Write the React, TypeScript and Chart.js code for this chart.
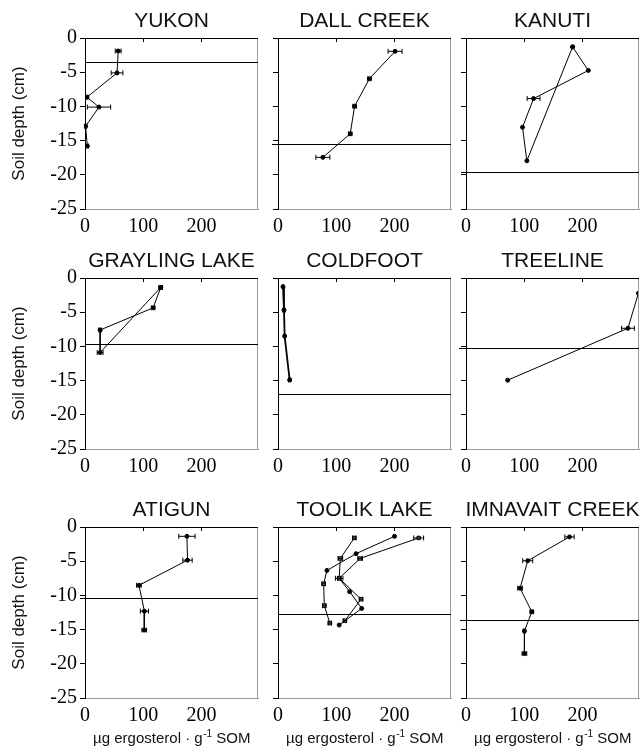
import React, { useEffect, useRef } from "react";
import { Chart, registerables } from "chart.js";

Chart.register(...registerables);

// ---------- axis / tick data ----------
const X_TICKS = [0, 100, 200];
const Y_TICKS = [0, -5, -10, -15, -20, -25];
const X_MIN = 0;
const X_MAX = 297;
const Y_MIN = -25;
const Y_MAX = 0;
const Y_TITLE = "Soil depth (cm)";
const X_TITLE_MAIN = "µg ergosterol · g";
const X_TITLE_SUP = "-1";
const X_TITLE_END = " SOM";

// ---------- panel data (x = µg ergosterol/g SOM, y = depth cm, err = ± x) ----------
const yukonX = [57, 55, 3.4, 24, 1, 4];
const yukonY = [-1.9, -5.1, -8.65, -10.1, -12.9, -15.8];
const yukonErr = [5, 10, 2, 20, 2, 2];
const yukonDepth = -3.47;

const dallX = [201, 157, 131.5, 124, 77];
const dallY = [-1.95, -5.95, -9.97, -14.0, -17.45];
const dallErr = [12, 3, 3, 3, 12];
const dallDepth = -15.5;

const kanutiX = [183, 210, 116, 97, 104.5, 183];
const kanutiY = [-1.3, -4.75, -8.85, -13.05, -17.95, -1.3];
const kanutiErr = [0, 0, 11, 0, 0, 0];
const kanutiDepth = -19.55;

const graylingX = [130, 117, 26, 26, 130];
const graylingY = [-1.38, -4.36, -7.6, -10.9, -1.38];
const graylingErr = [3, 3, 2, 5, 0];
const graylingDepth = -9.68;

const coldfootX = [8.6, 10.3, 11.4, 20];
const coldfootY = [-1.28, -4.7, -8.5, -14.9];
const coldfootErr = [1, 2, 1, 2];
const coldfootDepth = -16.9;

const treelineX = [296, 278, 71.5];
const treelineY = [-2.23, -7.35, -14.94];
const treelineErr = [0, 11, 0];
const treelineDepth = -10.3;

const atigunX = [175, 176, 92.6, 102, 101.7];
const atigunY = [-1.36, -4.85, -8.53, -12.3, -15.07];
const atigunErr = [14, 8, 4, 7, 4];
const atigunDepth = -10.37;

const toolikAX = [131, 107, 105, 123, 143.75, 105];
const toolikAY = [-1.6, -4.6, -7.5, -9.45, -11.9, -14.34];
const toolikAErr = [3, 4, 3, 0, 0, 0];
const toolikAMarks = ["s", "s", "s", "o", "o", "o"];

const toolikBX = [241.5, 141, 105, 142.6, 114.8];
const toolikBY = [-1.6, -4.6, -7.5, -10.56, -13.7];
const toolikBErr = [8.5, 4, 6.5, 3, 3];
const toolikBMarks = ["s", "s", "s", "s", "s"];

const toolikCX = [200, 134, 84, 78.4, 79.5, 89];
const toolikCY = [-1.36, -3.9, -6.35, -8.3, -11.5, -14.05];
const toolikCErr = [0, 0, 0, 3, 3, 3];
const toolikCMarks = ["o", "o", "o", "s", "s", "s"];
const toolikDepth = -12.65;

const imnavaitX = [177.7, 106, 92.8, 113, 100.3, 100.3];
const imnavaitY = [-1.45, -4.93, -8.95, -12.4, -15.2, -18.5];
const imnavaitErr = [8, 8.6, 4, 3, 2, 4];
const imnavaitDepth = -13.6;

// ---------- layout ----------
const COL_LEFT = [85, 278, 466];
const ROW_TOP = [38, 278, 527];
const PLOT_W = 174;
const PLOT_H = 171;

type Series = { x: number[]; y: number[]; err: number[]; marks?: string[] };
type PanelDef = {
  title: string;
  row: number;
  col: number;
  series: Series[];
  depth: number;
  ext: number;
  lw?: number;
};

const PANELS: PanelDef[] = [
  { title: "YUKON", row: 0, col: 0, series: [{ x: yukonX, y: yukonY, err: yukonErr }], depth: yukonDepth, ext: 0 },
  { title: "DALL CREEK", row: 0, col: 1, series: [{ x: dallX, y: dallY, err: dallErr }], depth: dallDepth, ext: 6 },
  { title: "KANUTI", row: 0, col: 2, series: [{ x: kanutiX, y: kanutiY, err: kanutiErr }], depth: kanutiDepth, ext: 5 },
  { title: "GRAYLING LAKE", row: 1, col: 0, series: [{ x: graylingX, y: graylingY, err: graylingErr }], depth: graylingDepth, ext: 0 },
  { title: "COLDFOOT", row: 1, col: 1, series: [{ x: coldfootX, y: coldfootY, err: coldfootErr }], depth: coldfootDepth, ext: 0, lw: 1.8 },
  { title: "TREELINE", row: 1, col: 2, series: [{ x: treelineX, y: treelineY, err: treelineErr }], depth: treelineDepth, ext: 7 },
  { title: "ATIGUN", row: 2, col: 0, series: [{ x: atigunX, y: atigunY, err: atigunErr }], depth: atigunDepth, ext: 5 },
  {
    title: "TOOLIK LAKE",
    row: 2,
    col: 1,
    series: [
      { x: toolikAX, y: toolikAY, err: toolikAErr, marks: toolikAMarks },
      { x: toolikBX, y: toolikBY, err: toolikBErr, marks: toolikBMarks },
      { x: toolikCX, y: toolikCY, err: toolikCErr, marks: toolikCMarks },
    ],
    depth: toolikDepth,
    ext: 0,
  },
  { title: "IMNAVAIT CREEK", row: 2, col: 2, series: [{ x: imnavaitX, y: imnavaitY, err: imnavaitErr }], depth: imnavaitDepth, ext: 6 },
];

const SANS = "'Liberation Sans', Arial, 'Noto Sans', sans-serif";
const SERIF = "'Liberation Serif', 'Times New Roman', serif";

function PanelChart({ def }: { def: PanelDef }) {
  const ref = useRef<HTMLCanvasElement | null>(null);
  const yW = def.col === 0 ? 85 : 30;
  const xH = def.row === 2 ? 52 : 40;
  const padTop = 32;
  const padRight = 4;
  const cw = yW + PLOT_W + padRight;
  const ch = padTop + PLOT_H + xH;
  const left = COL_LEFT[def.col] - yW;
  const top = ROW_TOP[def.row] - padTop;

  useEffect(() => {
    if (!ref.current) return;
    const datasets = def.series.map((s) => {
      const marks = s.marks || s.x.map(() => "o");
      return {
        data: s.x.map((xv, i) => ({ x: xv, y: s.y[i] })),
        errs: s.err,
        showLine: true,
        borderColor: "#000",
        borderWidth: def.lw || 1,
        pointStyle: marks.map((m) => (m === "s" ? "rect" : "circle")),
        pointRadius: marks.map((m) => (m === "s" ? 2.4 : 2)),
        pointBackgroundColor: marks.map((m) => (m === "s" ? "#777" : "#000")),
        pointBorderColor: "#000",
        pointBorderWidth: 1,
        tension: 0,
      } as any;
    });

    const deco = {
      id: "deco",
      afterDatasetsDraw(chart: any) {
        const ctx = chart.ctx as CanvasRenderingContext2D;
        const xs = chart.scales.x;
        const ys = chart.scales.y;
        ctx.save();
        ctx.strokeStyle = "#000";
        ctx.lineWidth = 1;
        chart.data.datasets.forEach((ds: any) => {
          ds.data.forEach((p: any, i: number) => {
            const e = ds.errs ? ds.errs[i] : 0;
            if (!e) return;
            const x1 = xs.getPixelForValue(p.x - e);
            const x2 = xs.getPixelForValue(p.x + e);
            const y = ys.getPixelForValue(p.y);
            ctx.beginPath();
            ctx.moveTo(x1, y);
            ctx.lineTo(x2, y);
            ctx.moveTo(x1, y - 2.5);
            ctx.lineTo(x1, y + 2.5);
            ctx.moveTo(x2, y - 2.5);
            ctx.lineTo(x2, y + 2.5);
            ctx.stroke();
          });
        });
        ctx.restore();
      },
      afterDraw(chart: any) {
        const ctx = chart.ctx as CanvasRenderingContext2D;
        const xs = chart.scales.x;
        const ys = chart.scales.y;
        const a = chart.chartArea;
        ctx.save();
        // right border (grey)
        ctx.strokeStyle = "#9a9a9a";
        ctx.lineWidth = 1;
        ctx.beginPath();
        ctx.moveTo(a.right - 0.5, a.top);
        ctx.lineTo(a.right - 0.5, a.bottom);
        ctx.stroke();
        // top axis line (x axis crossing at 0) with inward ticks
        ctx.strokeStyle = "#000";
        ctx.beginPath();
        ctx.moveTo(a.left, a.top + 0.5);
        ctx.lineTo(a.right, a.top + 0.5);
        X_TICKS.forEach((v) => {
          if (v === X_MIN) return;
          const px = Math.round(xs.getPixelForValue(v)) + 0.5;
          ctx.moveTo(px, a.top);
          ctx.lineTo(px, a.top + 4);
        });
        ctx.stroke();
        // depth line
        const dy = Math.round(ys.getPixelForValue(def.depth)) + 0.5;
        ctx.lineWidth = 1.2;
        ctx.beginPath();
        ctx.moveTo(a.left - def.ext, dy);
        ctx.lineTo(a.right, dy);
        ctx.stroke();
        // panel title
        ctx.fillStyle = "#111";
        ctx.font = `21px ${SANS}`;
        ctx.textAlign = "center";
        ctx.textBaseline = "middle";
        ctx.fillText(def.title, (a.left + a.right) / 2, a.top - 17);
        // y title
        if (def.col === 0) {
          ctx.save();
          ctx.translate(19.5, (a.top + a.bottom) / 2);
          ctx.rotate(-Math.PI / 2);
          ctx.font = `17px ${SANS}`;
          ctx.fillText(Y_TITLE, 0, 0);
          ctx.restore();
        }
        // x title with superscript
        if (def.row === 2) {
          const f1 = `15px ${SANS}`;
          const f2 = `10px ${SANS}`;
          ctx.font = f1;
          const w1 = ctx.measureText(X_TITLE_MAIN).width;
          const w3 = ctx.measureText(X_TITLE_END).width;
          ctx.font = f2;
          const w2 = ctx.measureText(X_TITLE_SUP).width;
          const total = w1 + w2 + w3;
          const x0 = (a.left + a.right) / 2 - total / 2;
          const by = a.bottom + 41;
          ctx.textAlign = "left";
          ctx.textBaseline = "middle";
          ctx.font = f1;
          ctx.fillText(X_TITLE_MAIN, x0, by);
          ctx.font = f2;
          ctx.fillText(X_TITLE_SUP, x0 + w1 + 0.5, by - 5);
          ctx.font = f1;
          ctx.fillText(X_TITLE_END, x0 + w1 + w2 + 0.5, by);
        }
        ctx.restore();
      },
    };

    const chart = new Chart(ref.current, {
      type: "scatter",
      data: { datasets },
      options: {
        responsive: false,
        animation: false,
        devicePixelRatio: 1,
        layout: { padding: { top: padTop, right: padRight, left: 0, bottom: 0 } },
        plugins: { legend: { display: false }, tooltip: { enabled: false }, title: { display: false } },
        scales: {
          x: {
            type: "linear",
            position: "bottom",
            min: X_MIN,
            max: X_MAX,
            afterBuildTicks: (s: any) => {
              s.ticks = X_TICKS.map((v) => ({ value: v }));
            },
            afterFit: (s: any) => {
              s.height = xH;
            },
            grid: { display: false, drawTicks: false },
            border: { display: true, color: "#9a9a9a", width: 1 },
            ticks: {
              color: "#000",
              font: { family: SERIF, size: 20 },
              padding: 6,
              maxRotation: 0,
              autoSkip: false,
              callback: (v: any) => String(v),
            },
          },
          y: {
            type: "linear",
            min: Y_MIN,
            max: Y_MAX,
            afterBuildTicks: (s: any) => {
              s.ticks = Y_TICKS.map((v) => ({ value: v }));
            },
            afterFit: (s: any) => {
              s.width = yW;
            },
            grid: { display: true, drawOnChartArea: false, drawTicks: true, tickLength: 5, color: "#000", lineWidth: 1 },
            border: { display: true, color: "#000", width: 1 },
            ticks: {
              display: def.col === 0,
              color: "#000",
              font: { family: SERIF, size: 20 },
              padding: 3,
              autoSkip: false,
              callback: (v: any) => String(v),
            },
          },
        },
      },
      plugins: [deco],
    } as any);
    return () => chart.destroy();
  }, []);

  return (
    <canvas
      ref={ref}
      width={cw}
      height={ch}
      style={{ position: "absolute", left, top, width: cw, height: ch }}
    />
  );
}

export default function App() {
  return (
    <div
      style={{
        position: "absolute",
        left: 0,
        top: 0,
        width: 640,
        height: 749,
        overflow: "hidden",
        background: "#fff",
      }}
    >
      {PANELS.map((p) => (
        <PanelChart key={p.title} def={p} />
      ))}
    </div>
  );
}
